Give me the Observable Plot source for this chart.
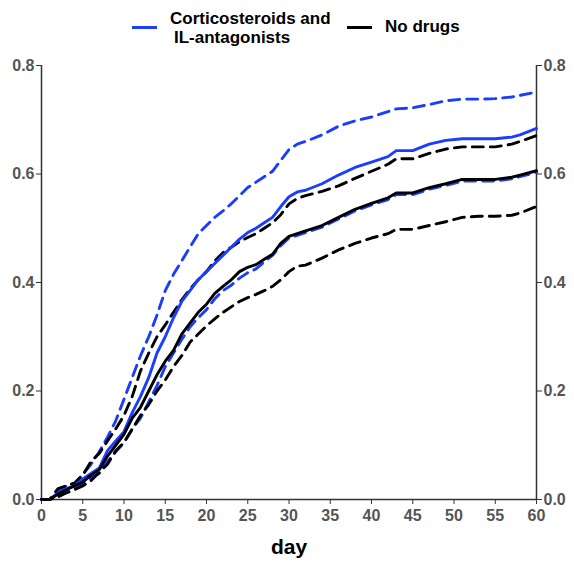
<!DOCTYPE html>
<html><head><meta charset="utf-8">
<script src="https://cdn.jsdelivr.net/npm/d3@7"></script>
<script src="https://cdn.jsdelivr.net/npm/@observablehq/plot@0.6"></script>
<style>
html,body{margin:0;padding:0;background:#fff;}
body{font-family:"Liberation Sans",Arial,sans-serif;width:574px;height:562px;overflow:hidden;}
#legend{position:relative;height:50px;width:574px;font-weight:bold;font-size:17px;color:#000;}
#legend .sw{position:absolute;height:3px;}
#legend .t{position:absolute;line-height:19px;white-space:nowrap;}
</style>
</head><body>
<div id="legend"></div>
<div id="chart"></div>
<script>
const days = [0,1,2,3,4,5,6,7,8,9,10,11,12,13,14,15,16,17,18,19,20,21,22,23,24,25,26,27,28,29,30,31,32,34,36,38,40,42,43,45,47,49,51,53,55,57,58,60];
const blueEst   = [0,0,0.012,0.02,0.025,0.038,0.048,0.058,0.09,0.108,0.125,0.16,0.19,0.225,0.27,0.3,0.335,0.365,0.385,0.405,0.42,0.435,0.45,0.465,0.48,0.492,0.5,0.51,0.52,0.54,0.558,0.567,0.57,0.582,0.598,0.612,0.622,0.632,0.643,0.643,0.655,0.662,0.665,0.665,0.665,0.668,0.672,0.684];
const blueUpper = [0,0,0.015,0.025,0.03,0.046,0.065,0.088,0.115,0.145,0.185,0.225,0.265,0.3,0.34,0.385,0.415,0.44,0.465,0.49,0.505,0.52,0.532,0.545,0.56,0.575,0.585,0.595,0.605,0.625,0.645,0.655,0.66,0.672,0.688,0.698,0.705,0.715,0.72,0.722,0.728,0.735,0.738,0.738,0.739,0.742,0.745,0.751];
const blueLower = [0,0,0.008,0.015,0.02,0.03,0.04,0.048,0.07,0.088,0.105,0.13,0.15,0.18,0.21,0.245,0.27,0.295,0.318,0.335,0.35,0.37,0.385,0.395,0.408,0.418,0.425,0.438,0.45,0.468,0.482,0.487,0.492,0.502,0.517,0.532,0.543,0.553,0.562,0.562,0.572,0.579,0.587,0.587,0.587,0.591,0.595,0.603];
const noEst     = [0,0,0.01,0.018,0.025,0.032,0.045,0.055,0.08,0.1,0.12,0.15,0.17,0.2,0.23,0.255,0.275,0.305,0.325,0.345,0.36,0.38,0.393,0.405,0.42,0.428,0.433,0.443,0.452,0.472,0.485,0.49,0.495,0.505,0.52,0.535,0.546,0.556,0.565,0.565,0.575,0.582,0.59,0.59,0.59,0.594,0.598,0.606];
const noUpper   = [0,0,0.02,0.025,0.03,0.045,0.07,0.085,0.108,0.13,0.155,0.19,0.237,0.27,0.3,0.322,0.345,0.368,0.388,0.405,0.42,0.44,0.455,0.465,0.475,0.483,0.49,0.5,0.51,0.525,0.545,0.555,0.56,0.568,0.578,0.592,0.605,0.618,0.628,0.628,0.638,0.646,0.65,0.65,0.65,0.655,0.66,0.671];
const noLower   = [0,0,0.005,0.012,0.018,0.025,0.035,0.05,0.065,0.09,0.105,0.13,0.155,0.175,0.2,0.22,0.245,0.265,0.29,0.305,0.32,0.333,0.345,0.355,0.365,0.372,0.378,0.385,0.393,0.405,0.42,0.43,0.432,0.445,0.46,0.472,0.482,0.49,0.498,0.498,0.505,0.512,0.52,0.522,0.522,0.524,0.528,0.54];
const seriesNames = ["Corticosteroids and IL-antagonists", "No drugs"];
const seriesColors = ["#1a3dff", "#000000"];
const xTicks = [0,5,10,15,20,25,30,35,40,45,50,55,60];
const yTicks = [0,0.2,0.4,0.6,0.8];

const table = days.map((d,i)=>({day:d, blueEst:blueEst[i], blueUpper:blueUpper[i], blueLower:blueLower[i], noEst:noEst[i], noUpper:noUpper[i], noLower:noLower[i]}));

// legend
const lg = document.getElementById("legend");
lg.innerHTML = `
<div class="sw" style="left:132px;top:26px;width:25px;background:${seriesColors[0]}"></div>
<div class="t" style="left:170px;top:9px;">Corticosteroids and</div>
<div class="t" style="left:174px;top:28px;">IL-antagonists</div>
<div class="sw" style="left:347px;top:26px;width:25px;background:${seriesColors[1]}"></div>
<div class="t" style="left:385px;top:17px;">No drugs</div>`;

const dash = "11,7";
const sw = 2.9;
const plot = Plot.plot({
  width: 574, height: 512,
  marginTop: 15, marginBottom: 63, marginLeft: 41, marginRight: 38,
  style: {fontFamily: "Liberation Sans, Arial, sans-serif", fontSize: "16px", fontWeight: "bold", background: "#fff", overflow: "visible"},
  x: {domain: [0, 60]},
  y: {domain: [0, 0.8]},
  marks: [
    Plot.axisX({ticks: xTicks, tickSize: 5, tickPadding: 5, fill: "#555", stroke: "#333", label: "day", labelAnchor: "center", labelArrow: "none", labelOffset: 54}),
    Plot.axisY({anchor: "left", ticks: yTicks, tickSize: 5, tickPadding: 2, tickFormat: d3.format(".1f"), fill: "#555", stroke: "#333", label: null}),
    Plot.axisY({anchor: "right", ticks: yTicks, tickSize: 5, tickPadding: 2, tickFormat: d3.format(".1f"), fill: "#555", stroke: "#333", label: null}),
    Plot.ruleX([0, 60], {stroke: "#333", strokeWidth: 1.5}),
    Plot.ruleY([0], {stroke: "#333", strokeWidth: 1.5}),
    Plot.line(table, {x: "day", y: "blueUpper", stroke: seriesColors[0], strokeWidth: sw, strokeDasharray: dash}),
    Plot.line(table, {x: "day", y: "blueLower", stroke: seriesColors[0], strokeWidth: sw, strokeDasharray: dash}),
    Plot.line(table, {x: "day", y: "noUpper", stroke: seriesColors[1], strokeWidth: sw, strokeDasharray: dash}),
    Plot.line(table, {x: "day", y: "noLower", stroke: seriesColors[1], strokeWidth: sw, strokeDasharray: dash}),
    Plot.line(table, {x: "day", y: "blueEst", stroke: seriesColors[0], strokeWidth: sw}),
    Plot.line(table, {x: "day", y: "noEst", stroke: seriesColors[1], strokeWidth: sw})
  ]
});
document.getElementById("chart").appendChild(plot);
const lab = plot.querySelector('g[aria-label="x-axis label"]');
if (lab) { lab.setAttribute("font-size", "21"); lab.setAttribute("fill", "#000"); lab.querySelectorAll("text").forEach(t=>{t.setAttribute("font-size","21");t.setAttribute("fill","#000");}); }
</script>
</body></html>
